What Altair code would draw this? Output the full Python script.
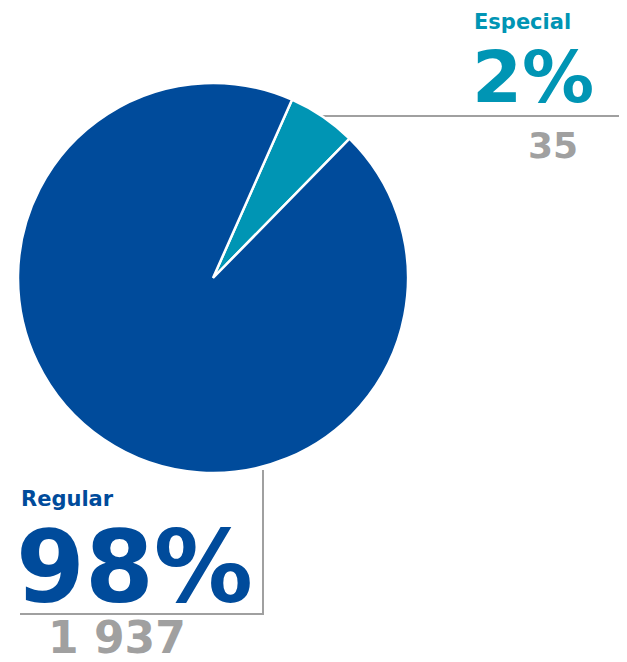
import math
import altair as alt
import pandas as pd

# Data
categories = ["Especial", "Regular"]
counts = [35, 1937]
pct_labels = ["2%", "98%"]
count_labels = ["35", "1 937"]
# share of the circle as drawn in the reference (slice angles)
drawn_share = [5.7, 94.3]

DARK = "#004B9B"
TEAL = "#0095B4"
GRAY = "#A0A0A0"
FONT = "DejaVu Sans"

df = pd.DataFrame({
    "cat": categories,
    "count": counts,
    "pct": pct_labels,
    "countlab": count_labels,
    "share": drawn_share,
    "ord": [0, 1],
})

start = math.radians(23.9)

base = alt.Chart(df)

pie = base.mark_arc(outerRadius=195, stroke="white", strokeWidth=2.5).encode(
    theta=alt.Theta("share:Q", stack=True,
                    scale=alt.Scale(range=[start, start + 2 * math.pi])),
    color=alt.Color("cat:N", scale=alt.Scale(domain=categories, range=[TEAL, DARK]),
                    legend=None),
    order=alt.Order("ord:Q"),
    x=alt.value(205),
    y=alt.value(270),
)

rule_esp = base.transform_filter(alt.datum.cat == "Especial").mark_rule(
    color=GRAY, strokeWidth=2).encode(
    x=alt.value(312), x2=alt.value(619), y=alt.value(108))
rule_reg_v = base.transform_filter(alt.datum.cat == "Regular").mark_rule(
    color=GRAY, strokeWidth=2).encode(
    x=alt.value(255), y=alt.value(462), y2=alt.value(606))
rule_reg_h = base.transform_filter(alt.datum.cat == "Regular").mark_rule(
    color=GRAY, strokeWidth=2).encode(
    x=alt.value(12), x2=alt.value(256), y=alt.value(606))


def txt(cat, field, x, y, size, color):
    return base.transform_filter(alt.datum.cat == cat).mark_text(
        align="left", baseline="alphabetic", font=FONT, fontWeight="bold",
        fontSize=size, color=color).encode(
        x=alt.value(x), y=alt.value(y), text=alt.Text(field))


esp_name = txt("Especial", "cat:N", 466, 21, 21, TEAL)
esp_pct = txt("Especial", "pct:N", 464, 94, 72, TEAL)
esp_cnt = txt("Especial", "countlab:N", 520, 150, 36, GRAY)
reg_name = txt("Regular", "cat:N", 13, 498, 21, DARK)
reg_pct = txt("Regular", "pct:N", 8, 594, 99, DARK)
reg_cnt = txt("Regular", "countlab:N", 40, 645, 44, GRAY)

chart = alt.layer(
    rule_esp, rule_reg_v, rule_reg_h, pie,
    esp_name, esp_pct, esp_cnt, reg_name, reg_pct, reg_cnt,
).properties(
    width=611, height=646, autosize=alt.AutoSizeParams(type="none"), padding=0
).configure_view(stroke=None)

chart.save("out.html", embed_options={"renderer": "svg", "actions": False})
